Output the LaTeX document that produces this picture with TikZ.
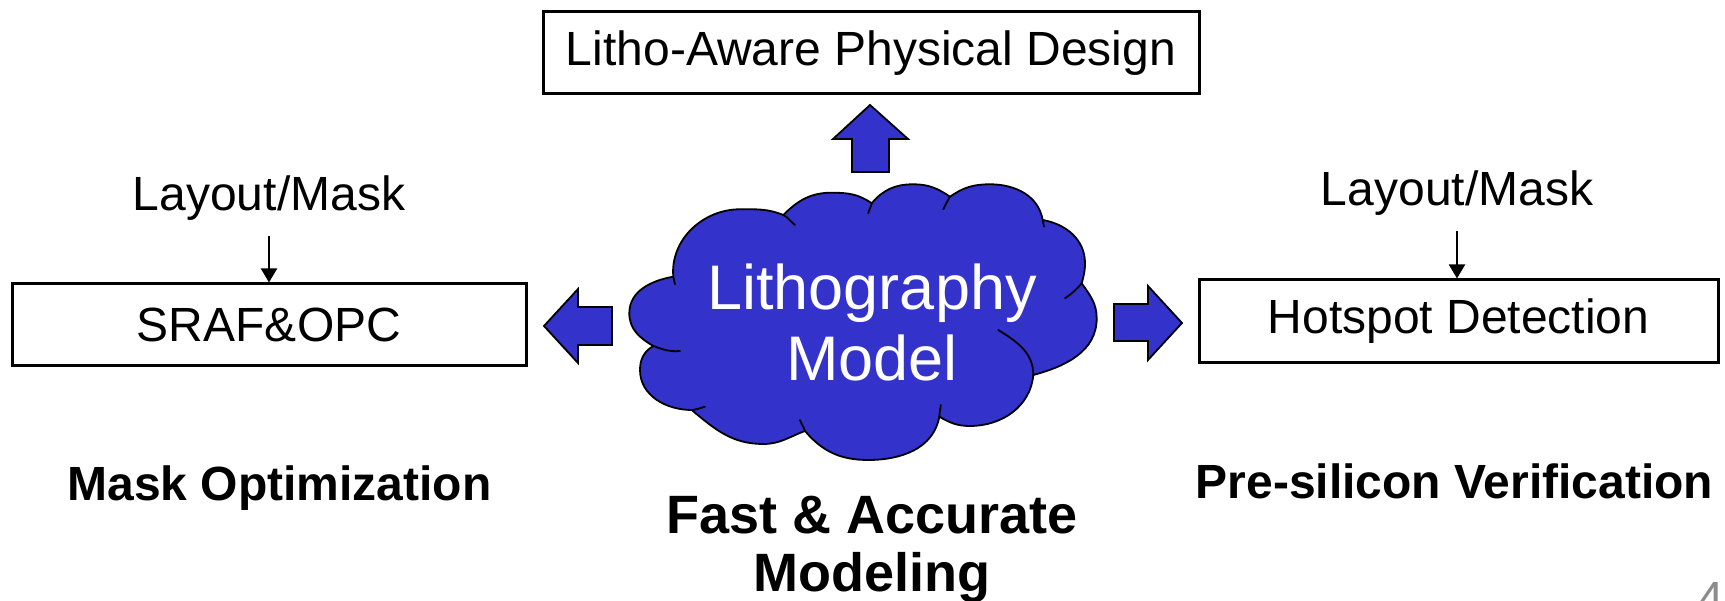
\documentclass[tikz,border=0pt]{standalone}
\usepackage{fontspec}
\setmainfont{Liberation Sans}
\usetikzlibrary{arrows.meta}
\definecolor{cloudblue}{RGB}{51,51,204}
\definecolor{pagegray}{RGB}{140,140,140}
\tikzset{
  box/.style={draw, line width=3pt, inner sep=0pt, font=\fontsize{48}{56}\selectfont},
  plain/.style={inner sep=0pt, font=\fontsize{48}{56}\selectfont},
  heading/.style={inner sep=0pt, font=\fontsize{48}{56}\selectfont\bfseries},
  blockarrow/.style={fill=cloudblue, draw=black, line width=1.8pt, line join=miter},
  cloudline/.style={line width=1.8pt, line cap=round},
  feed/.style={line width=2pt, -{Triangle[length=14pt,width=16pt]}},
}
\begin{document}
\begin{tikzpicture}[x=1pt,y=1pt]
\useasboundingbox (0,0) rectangle (1725,601);

% boxes
\node[box, minimum width=656pt, minimum height=82pt] (lapd) at (871,548) {Litho-Aware Physical Design};
\node[box, minimum width=514pt, minimum height=82pt] (sraf) at (269,276) {SRAF\&OPC};
\node[box, minimum width=519pt, minimum height=83pt] (hsd) at (1458.5,279.5) {Hotspot Detection};

% inputs
\node[plain, anchor=base] (lmL) at (269,390) {Layout/Mask};
\node[plain, anchor=base] (lmR) at (1457,395) {Layout/Mask};
\coordinate (fL) at (269,365);
\coordinate (fR) at (1457,370);
\draw[feed] (fL) -- (fL |- sraf.north);
\draw[feed] (fR) -- (fR |- hsd.north);

% block arrows out of the model
\draw[blockarrow] (870,496) -- (908,462) -- (889,462) -- (889,429) -- (852,429) -- (852,462) -- (833,462) -- cycle;
\draw[blockarrow] (544,275) -- (578,312) -- (578,294) -- (612,294) -- (612,256) -- (578,256) -- (578,238) -- cycle;
\draw[blockarrow] (1182,278) -- (1148,315) -- (1148,297) -- (1114,297) -- (1114,260) -- (1148,260) -- (1148,241) -- cycle;

% cloud outline
\draw[fill=cloudblue, cloudline, line join=round]
 (653.3,255) to[out=150,in=270] (629.3,287.7) to[out=90,in=190] (673.3,324.3)
 to[out=95,in=180] (740,391.7) to[out=0,in=158] (783.3,386)
 to[out=45,in=180] (831.7,408.3) to[out=0,in=145] (871.7,397.7)
 to[out=50,in=180] (913.3,416.7) to[out=0,in=146] (950,404.3)
 to[out=35,in=180] (990,416.7) to[out=0,in=100] (1042.7,381)
 to[out=-10,in=90] (1085,337.7) to[out=270,in=75] (1081.7,317.7)
 to[out=-55,in=90] (1096.7,282.7) to[out=270,in=15] (1033.3,226)
 to[out=-95,in=0] (970,175) to[out=180,in=-30] (939.3,184.3)
 to[out=-100,in=0] (868.3,141) to[out=180,in=-50] (805,170)
 to[out=-160,in=0] (763.3,157) to[out=180,in=-40] (691.7,191)
 to[out=180,in=270] (640,231) to[out=90,in=210] (653.3,255) -- cycle;

% inner arcs of the puffs
\draw[cloudline] (653.3,255) to[out=-20,in=185] (680,250);
\draw[cloudline] (673.3,324.3) to[out=-80,in=100] (675,316.7);
\draw[cloudline] (783.3,386) to[out=-25,in=145] (795,376);
\draw[cloudline] (871.7,397.7) to[out=-100,in=80] (868.3,387.7);
\draw[cloudline] (950,404.3) to[out=-120,in=65] (943.3,391.7);
\draw[cloudline] (1042.7,381) to[out=-85,in=95] (1044,374.3);
\draw[cloudline] (1081.7,317.7) to[out=-130,in=35] (1065,302.7);
\draw[cloudline] (998.3,271) to[out=-32,in=90] (1033.3,226);
\draw[cloudline] (939.3,184.3) to[out=85,in=-95] (940.7,196);
\draw[cloudline] (805,170) to[out=110,in=-70] (800,181);
\draw[cloudline] (691.7,191) to[out=5,in=195] (705,194.3);

% model label (base anchor sits on the last line)
\node[inner sep=0pt, text=white, align=center, anchor=base, font=\fontsize{63}{71}\selectfont] (litho) at (872,220) {Lithography\\Model};

% captions
\node[heading, anchor=base] (mo) at (279.5,100) {Mask Optimization};
\node[heading, anchor=base] (psv) at (1454.5,102) {Pre-silicon Verification};
\node[inner sep=0pt, align=center, anchor=base, font=\fontsize{54}{58}\selectfont\bfseries] (fam) at (872,9) {Fast \& Accurate\\Modeling};

% slide number
\node[plain, text=pagegray, anchor=base west] (pg) at (1697,-15) {4};
\end{tikzpicture}
\end{document}
